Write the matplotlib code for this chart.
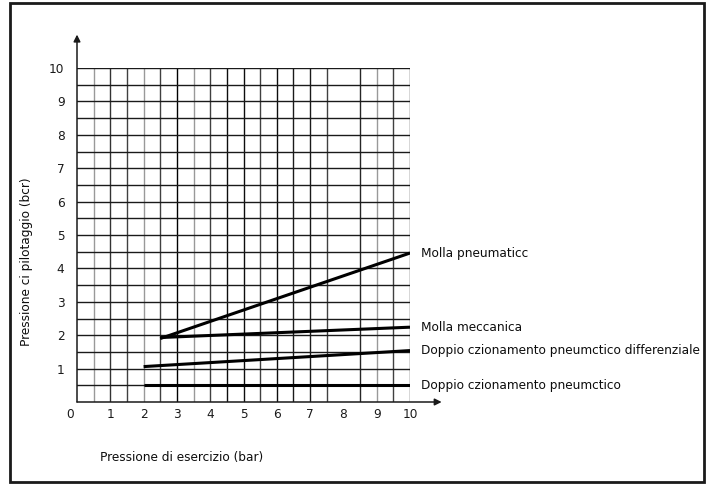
"""
Pressione di pilotaggio in funzione della pressione di esercizio.
"""

import matplotlib
matplotlib.use('Agg')
import matplotlib.pyplot as plt
import matplotlib.transforms as mtransforms
from matplotlib.patches import Rectangle

# curve (x da / a, y da / a)
labels = ['Molla pneumaticc', 'Molla meccanica',
          'Doppio czionamento pneumctico differenziale',
          'Doppio czionamento pneumctico']
x_start = [2.5, 2.5, 2.0, 2.0]
x_end = [10, 10, 10, 10]
y_start = [1.9, 1.93, 1.06, 0.5]
y_end = [4.46, 2.24, 1.54, 0.5]

ticks = list(range(11))

# griglia: linee verticali (manca quella a 8 nell'originale) e orizzontali
vgrid = [0.5, 1, 1.5, 2, 2.5, 3, 3.5, 4, 4.5, 5, 5.5, 6, 6.5, 7, 7.5,
         8.5, 9, 9.5, 10]
vshade = ['0.6', '0.2', '0.25', '0.6', '0.25', '0.0', '0.6', '0.25', '0.05',
          '0.05', '0.25', '0.05', '0.1', '0.1', '0.25', '0.15', '0.6',
          '0.25', '0.2']
hgrid = [0.5 * i for i in range(1, 21)]

W, H = 713, 484
fig = plt.figure(figsize=(W / 100, H / 100), dpi=100)
ax = fig.add_axes([77 / W, (H - 402) / H, 333 / W, 334 / H])
ax.set_xlim(0, 10)
ax.set_ylim(0, 10)
for s in ax.spines.values():
    s.set_visible(False)

for x, c in zip(vgrid, vshade):
    ax.axvline(x, color=c, lw=1.0, zorder=1)
for y in hgrid:
    ax.axhline(y, color='0.1', lw=1.0, zorder=1)

# assi con frecce
ax.annotate('', xy=(10.95, 0), xytext=(0, 0), annotation_clip=False,
            arrowprops=dict(arrowstyle='-|>', color='0.1', lw=1.1,
                            mutation_scale=10, shrinkA=0, shrinkB=0))
ax.annotate('', xy=(0, 11.0), xytext=(0, 0), annotation_clip=False,
            arrowprops=dict(arrowstyle='-|>', color='0.1', lw=1.1,
                            mutation_scale=10, shrinkA=0, shrinkB=0))

for lab, x0, x1, y0, y1 in zip(labels, x_start, x_end, y_start, y_end):
    ax.plot([x0, x1], [y0, y1], color='black', lw=2.2, zorder=3,
            solid_capstyle='butt')
    ax.text(x1 + 0.33, y1, lab, fontsize=8.7, color='0.05',
            va='center', ha='left', clip_on=False)

ax.set_xticks(ticks)
ax.set_yticks(ticks[1:])
ax.tick_params(length=0, labelsize=8.7, labelcolor='0.1')
ax.tick_params(axis='x', pad=4)
ax.tick_params(axis='y', pad=9)

# lo "0" sull'asse x sta un po' a sinistra
fig.canvas.draw()
lab0 = ax.get_xticklabels()[0]
lab0.set_transform(lab0.get_transform() +
                   mtransforms.ScaledTranslation(-7 / 100, 0,
                                                 fig.dpi_scale_trans))

fig.text(100 / W, 1 - 458 / H, 'Pressione di esercizio (bar)',
         fontsize=8.7, color='0.05', ha='left', va='center')
fig.text(27 / W, 1 - 262 / H, 'Pressione ci pilotaggio (bcr)',
         fontsize=8.7, color='0.05', ha='center', va='center', rotation=90)

# cornice
fig.patches.append(Rectangle((10 / W, 2 / H), 694 / W, 479 / H,
                             transform=fig.transFigure, fill=False,
                             lw=2, edgecolor='0.1'))

fig.savefig('out.png', dpi=100)
